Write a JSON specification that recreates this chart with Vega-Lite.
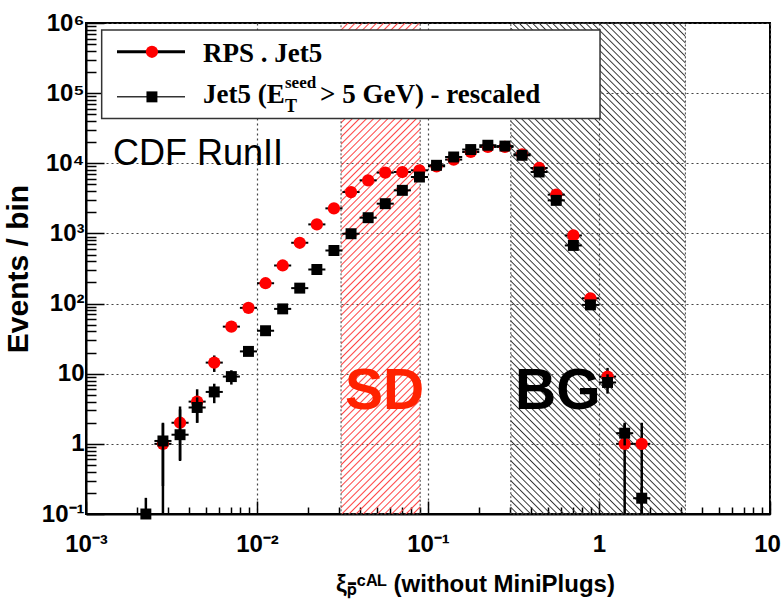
{
"$schema":"https://vega.github.io/schema/vega-lite/v6.json",
"width":684,"height":491,
"autosize":{"type":"none"},
"padding":{"left":86,"top":23,"right":12,"bottom":90},
"background":"#ffffff",
"config":{
"view":{"stroke":"#000","strokeWidth":2},
"mark":{"invalid":null},
"axis":{"domainColor":"#000","domainWidth":2,"tickColor":"#000","tickWidth":1.5,"grid":true,"gridColor":"#444","gridDash":[2,3],"gridWidth":1.2,"labelFont":"Liberation Sans","labelFontWeight":"bold","labelFontSize":24,"labelColor":"#000","titleFont":"Liberation Sans","titleFontWeight":"bold","titleColor":"#000"},
"axisX":{"titleFontSize":24,"labelPadding":31,"titlePadding":10,"titleX":389},
"axisY":{"titleFontSize":30,"labelPadding":20,"titlePadding":8}
},
"data":{"values":[
{"s":"RPS","x":0.001122,"xlo":0.001,"xhi":0.001259,"y":0},
{"s":"RPS","x":0.001413,"xlo":0.001259,"xhi":0.001585,"y":0},
{"s":"RPS","x":0.001778,"xlo":0.001585,"xhi":0.001995,"y":0},
{"s":"RPS","x":0.002239,"xlo":0.001995,"xhi":0.002512,"y":0},
{"s":"RPS","x":0.002818,"xlo":0.002512,"xhi":0.003162,"y":1,"ylo":0,"yhi":2},
{"s":"RPS","x":0.003548,"xlo":0.003162,"xhi":0.003981,"y":2,"ylo":0.59,"yhi":3.41},
{"s":"RPS","x":0.004467,"xlo":0.003981,"xhi":0.005012,"y":4,"ylo":2,"yhi":6},
{"s":"RPS","x":0.005623,"xlo":0.005012,"xhi":0.00631,"y":14.4,"ylo":10.6,"yhi":18.2},
{"s":"RPS","x":0.00708,"xlo":0.00631,"xhi":0.007943,"y":46.9},
{"s":"RPS","x":0.008913,"xlo":0.007943,"xhi":0.01,"y":86.9},
{"s":"RPS","x":0.01122,"xlo":0.01,"xhi":0.01259,"y":195},
{"s":"RPS","x":0.01413,"xlo":0.01259,"xhi":0.01585,"y":349},
{"s":"RPS","x":0.01778,"xlo":0.01585,"xhi":0.01995,"y":736},
{"s":"RPS","x":0.02239,"xlo":0.01995,"xhi":0.02512,"y":1345},
{"s":"RPS","x":0.02818,"xlo":0.02512,"xhi":0.03162,"y":2276},
{"s":"RPS","x":0.03548,"xlo":0.03162,"xhi":0.03981,"y":3890},
{"s":"RPS","x":0.04467,"xlo":0.03981,"xhi":0.05012,"y":5717},
{"s":"RPS","x":0.05623,"xlo":0.05012,"xhi":0.0631,"y":7366},
{"s":"RPS","x":0.0708,"xlo":0.0631,"xhi":0.07943,"y":7510},
{"s":"RPS","x":0.08913,"xlo":0.07943,"xhi":0.1,"y":7943},
{"s":"RPS","x":0.1122,"xlo":0.1,"xhi":0.1259,"y":9057},
{"s":"RPS","x":0.1413,"xlo":0.1259,"xhi":0.1585,"y":11290},
{"s":"RPS","x":0.1778,"xlo":0.1585,"xhi":0.1995,"y":14500},
{"s":"RPS","x":0.2239,"xlo":0.1995,"xhi":0.2512,"y":17100},
{"s":"RPS","x":0.2818,"xlo":0.2512,"xhi":0.3162,"y":17100},
{"s":"RPS","x":0.3548,"xlo":0.3162,"xhi":0.3981,"y":13450},
{"s":"RPS","x":0.4467,"xlo":0.3981,"xhi":0.5012,"y":8570},
{"s":"RPS","x":0.5623,"xlo":0.5012,"xhi":0.631,"y":3570},
{"s":"RPS","x":0.708,"xlo":0.631,"xhi":0.7943,"y":936},
{"s":"RPS","x":0.8913,"xlo":0.7943,"xhi":1,"y":119},
{"s":"RPS","x":1.122,"xlo":1,"xhi":1.259,"y":9.1,"ylo":6.1,"yhi":12.1},
{"s":"RPS","x":1.413,"xlo":1.259,"xhi":1.585,"y":1,"ylo":0,"yhi":2},
{"s":"RPS","x":1.778,"xlo":1.585,"xhi":1.995,"y":1,"ylo":0,"yhi":2},
{"s":"RPS","x":2.239,"xlo":1.995,"xhi":2.512,"y":0},
{"s":"RPS","x":2.818,"xlo":2.512,"xhi":3.162,"y":0},
{"s":"RPS","x":3.548,"xlo":3.162,"xhi":3.981,"y":0},
{"s":"RPS","x":4.467,"xlo":3.981,"xhi":5.012,"y":0},
{"s":"RPS","x":5.623,"xlo":5.012,"xhi":6.31,"y":0},
{"s":"RPS","x":7.08,"xlo":6.31,"xhi":7.943,"y":0},
{"s":"RPS","x":8.913,"xlo":7.943,"xhi":10,"y":0},
{"s":"Jet5","x":0.001122,"xlo":0.001,"xhi":0.001259,"y":0},
{"s":"Jet5","x":0.001413,"xlo":0.001259,"xhi":0.001585,"y":0},
{"s":"Jet5","x":0.001778,"xlo":0.001585,"xhi":0.001995,"y":0},
{"s":"Jet5","x":0.002239,"xlo":0.001995,"xhi":0.002512,"y":0.07,"ylo":0,"yhi":0.17},
{"s":"Jet5","x":0.002818,"xlo":0.002512,"xhi":0.003162,"y":1.1,"ylo":0.25,"yhi":1.95},
{"s":"Jet5","x":0.003548,"xlo":0.003162,"xhi":0.003981,"y":1.35,"ylo":0.57,"yhi":3.1},
{"s":"Jet5","x":0.004467,"xlo":0.003981,"xhi":0.005012,"y":3.3,"ylo":2,"yhi":4.6},
{"s":"Jet5","x":0.005623,"xlo":0.005012,"xhi":0.00631,"y":5.5,"ylo":3.8,"yhi":7.2},
{"s":"Jet5","x":0.00708,"xlo":0.00631,"xhi":0.007943,"y":9.1,"ylo":7,"yhi":11.2},
{"s":"Jet5","x":0.008913,"xlo":0.007943,"xhi":0.01,"y":20.8},
{"s":"Jet5","x":0.01122,"xlo":0.01,"xhi":0.01259,"y":41},
{"s":"Jet5","x":0.01413,"xlo":0.01259,"xhi":0.01585,"y":84},
{"s":"Jet5","x":0.01778,"xlo":0.01585,"xhi":0.01995,"y":166},
{"s":"Jet5","x":0.02239,"xlo":0.01995,"xhi":0.02512,"y":306},
{"s":"Jet5","x":0.02818,"xlo":0.02512,"xhi":0.03162,"y":571},
{"s":"Jet5","x":0.03548,"xlo":0.03162,"xhi":0.03981,"y":990},
{"s":"Jet5","x":0.04467,"xlo":0.03981,"xhi":0.05012,"y":1676},
{"s":"Jet5","x":0.05623,"xlo":0.05012,"xhi":0.0631,"y":2656},
{"s":"Jet5","x":0.0708,"xlo":0.0631,"xhi":0.07943,"y":4114},
{"s":"Jet5","x":0.08913,"xlo":0.07943,"xhi":0.1,"y":6370},
{"s":"Jet5","x":0.1122,"xlo":0.1,"xhi":0.1259,"y":9360},
{"s":"Jet5","x":0.1413,"xlo":0.1259,"xhi":0.1585,"y":12300},
{"s":"Jet5","x":0.1778,"xlo":0.1585,"xhi":0.1995,"y":15700},
{"s":"Jet5","x":0.2239,"xlo":0.1995,"xhi":0.2512,"y":18080},
{"s":"Jet5","x":0.2818,"xlo":0.2512,"xhi":0.3162,"y":17600},
{"s":"Jet5","x":0.3548,"xlo":0.3162,"xhi":0.3981,"y":13000},
{"s":"Jet5","x":0.4467,"xlo":0.3981,"xhi":0.5012,"y":7510},
{"s":"Jet5","x":0.5623,"xlo":0.5012,"xhi":0.631,"y":2960},
{"s":"Jet5","x":0.708,"xlo":0.631,"xhi":0.7943,"y":674},
{"s":"Jet5","x":0.8913,"xlo":0.7943,"xhi":1,"y":95.8},
{"s":"Jet5","x":1.122,"xlo":1,"xhi":1.259,"y":7.5,"ylo":5.2,"yhi":9.8},
{"s":"Jet5","x":1.413,"xlo":1.259,"xhi":1.585,"y":1.42,"ylo":0.95,"yhi":1.9},
{"s":"Jet5","x":1.778,"xlo":1.585,"xhi":1.995,"y":0.168,"ylo":0.06,"yhi":0.24},
{"s":"Jet5","x":2.239,"xlo":1.995,"xhi":2.512,"y":0},
{"s":"Jet5","x":2.818,"xlo":2.512,"xhi":3.162,"y":0},
{"s":"Jet5","x":3.548,"xlo":3.162,"xhi":3.981,"y":0},
{"s":"Jet5","x":4.467,"xlo":3.981,"xhi":5.012,"y":0},
{"s":"Jet5","x":5.623,"xlo":5.012,"xhi":6.31,"y":0},
{"s":"Jet5","x":7.08,"xlo":6.31,"xhi":7.943,"y":0},
{"s":"Jet5","x":8.913,"xlo":7.943,"xhi":10,"y":0}
]},
"layer":[
{"data":{"values":[{}]},
"mark":{"type":"rect","stroke":"#444","strokeDash":[2,2],"strokeWidth":1,
"fill":{"gradient":"linear","x1":0,"y1":0,"x2":0.1826,"y2":1.1319,"stops":[
{"offset":0,"color":"#f44"},{"offset":0.0025,"color":"#f440"},
{"offset":0.01,"color":"#f440"},{"offset":0.0125,"color":"#f44"},{"offset":0.015,"color":"#f440"},{"offset":0.0225,"color":"#f440"},{"offset":0.025,"color":"#f44"},{"offset":0.0275,"color":"#f440"},{"offset":0.035,"color":"#f440"},{"offset":0.0375,"color":"#f44"},{"offset":0.04,"color":"#f440"},{"offset":0.0475,"color":"#f440"},{"offset":0.05,"color":"#f44"},{"offset":0.0525,"color":"#f440"},{"offset":0.06,"color":"#f440"},{"offset":0.0625,"color":"#f44"},{"offset":0.065,"color":"#f440"},{"offset":0.0725,"color":"#f440"},{"offset":0.075,"color":"#f44"},{"offset":0.0775,"color":"#f440"},{"offset":0.085,"color":"#f440"},{"offset":0.0875,"color":"#f44"},{"offset":0.09,"color":"#f440"},{"offset":0.0975,"color":"#f440"},{"offset":0.1,"color":"#f44"},{"offset":0.1025,"color":"#f440"},
{"offset":0.11,"color":"#f440"},{"offset":0.1125,"color":"#f44"},{"offset":0.115,"color":"#f440"},{"offset":0.1225,"color":"#f440"},{"offset":0.125,"color":"#f44"},{"offset":0.1275,"color":"#f440"},{"offset":0.135,"color":"#f440"},{"offset":0.1375,"color":"#f44"},{"offset":0.14,"color":"#f440"},{"offset":0.1475,"color":"#f440"},{"offset":0.15,"color":"#f44"},{"offset":0.1525,"color":"#f440"},{"offset":0.16,"color":"#f440"},{"offset":0.1625,"color":"#f44"},{"offset":0.165,"color":"#f440"},{"offset":0.1725,"color":"#f440"},{"offset":0.175,"color":"#f44"},{"offset":0.1775,"color":"#f440"},{"offset":0.185,"color":"#f440"},{"offset":0.1875,"color":"#f44"},{"offset":0.19,"color":"#f440"},{"offset":0.1975,"color":"#f440"},{"offset":0.2,"color":"#f44"},{"offset":0.2025,"color":"#f440"},
{"offset":0.21,"color":"#f440"},{"offset":0.2125,"color":"#f44"},{"offset":0.215,"color":"#f440"},{"offset":0.2225,"color":"#f440"},{"offset":0.225,"color":"#f44"},{"offset":0.2275,"color":"#f440"},{"offset":0.235,"color":"#f440"},{"offset":0.2375,"color":"#f44"},{"offset":0.24,"color":"#f440"},{"offset":0.2475,"color":"#f440"},{"offset":0.25,"color":"#f44"},{"offset":0.2525,"color":"#f440"},{"offset":0.26,"color":"#f440"},{"offset":0.2625,"color":"#f44"},{"offset":0.265,"color":"#f440"},{"offset":0.2725,"color":"#f440"},{"offset":0.275,"color":"#f44"},{"offset":0.2775,"color":"#f440"},{"offset":0.285,"color":"#f440"},{"offset":0.2875,"color":"#f44"},{"offset":0.29,"color":"#f440"},{"offset":0.2975,"color":"#f440"},{"offset":0.3,"color":"#f44"},{"offset":0.3025,"color":"#f440"},
{"offset":0.31,"color":"#f440"},{"offset":0.3125,"color":"#f44"},{"offset":0.315,"color":"#f440"},{"offset":0.3225,"color":"#f440"},{"offset":0.325,"color":"#f44"},{"offset":0.3275,"color":"#f440"},{"offset":0.335,"color":"#f440"},{"offset":0.3375,"color":"#f44"},{"offset":0.34,"color":"#f440"},{"offset":0.3475,"color":"#f440"},{"offset":0.35,"color":"#f44"},{"offset":0.3525,"color":"#f440"},{"offset":0.36,"color":"#f440"},{"offset":0.3625,"color":"#f44"},{"offset":0.365,"color":"#f440"},{"offset":0.3725,"color":"#f440"},{"offset":0.375,"color":"#f44"},{"offset":0.3775,"color":"#f440"},{"offset":0.385,"color":"#f440"},{"offset":0.3875,"color":"#f44"},{"offset":0.39,"color":"#f440"},{"offset":0.3975,"color":"#f440"},{"offset":0.4,"color":"#f44"},{"offset":0.4025,"color":"#f440"},
{"offset":0.41,"color":"#f440"},{"offset":0.4125,"color":"#f44"},{"offset":0.415,"color":"#f440"},{"offset":0.4225,"color":"#f440"},{"offset":0.425,"color":"#f44"},{"offset":0.4275,"color":"#f440"},{"offset":0.435,"color":"#f440"},{"offset":0.4375,"color":"#f44"},{"offset":0.44,"color":"#f440"},{"offset":0.4475,"color":"#f440"},{"offset":0.45,"color":"#f44"},{"offset":0.4525,"color":"#f440"},{"offset":0.46,"color":"#f440"},{"offset":0.4625,"color":"#f44"},{"offset":0.465,"color":"#f440"},{"offset":0.4725,"color":"#f440"},{"offset":0.475,"color":"#f44"},{"offset":0.4775,"color":"#f440"},{"offset":0.485,"color":"#f440"},{"offset":0.4875,"color":"#f44"},{"offset":0.49,"color":"#f440"},{"offset":0.4975,"color":"#f440"},{"offset":0.5,"color":"#f44"},{"offset":0.5025,"color":"#f440"},
{"offset":0.51,"color":"#f440"},{"offset":0.5125,"color":"#f44"},{"offset":0.515,"color":"#f440"},{"offset":0.5225,"color":"#f440"},{"offset":0.525,"color":"#f44"},{"offset":0.5275,"color":"#f440"},{"offset":0.535,"color":"#f440"},{"offset":0.5375,"color":"#f44"},{"offset":0.54,"color":"#f440"},{"offset":0.5475,"color":"#f440"},{"offset":0.55,"color":"#f44"},{"offset":0.5525,"color":"#f440"},{"offset":0.56,"color":"#f440"},{"offset":0.5625,"color":"#f44"},{"offset":0.565,"color":"#f440"},{"offset":0.5725,"color":"#f440"},{"offset":0.575,"color":"#f44"},{"offset":0.5775,"color":"#f440"},{"offset":0.585,"color":"#f440"},{"offset":0.5875,"color":"#f44"},{"offset":0.59,"color":"#f440"},{"offset":0.5975,"color":"#f440"},{"offset":0.6,"color":"#f44"},{"offset":0.6025,"color":"#f440"},
{"offset":0.61,"color":"#f440"},{"offset":0.6125,"color":"#f44"},{"offset":0.615,"color":"#f440"},{"offset":0.6225,"color":"#f440"},{"offset":0.625,"color":"#f44"},{"offset":0.6275,"color":"#f440"},{"offset":0.635,"color":"#f440"},{"offset":0.6375,"color":"#f44"},{"offset":0.64,"color":"#f440"},{"offset":0.6475,"color":"#f440"},{"offset":0.65,"color":"#f44"},{"offset":0.6525,"color":"#f440"},{"offset":0.66,"color":"#f440"},{"offset":0.6625,"color":"#f44"},{"offset":0.665,"color":"#f440"},{"offset":0.6725,"color":"#f440"},{"offset":0.675,"color":"#f44"},{"offset":0.6775,"color":"#f440"},{"offset":0.685,"color":"#f440"},{"offset":0.6875,"color":"#f44"},{"offset":0.69,"color":"#f440"},{"offset":0.6975,"color":"#f440"},{"offset":0.7,"color":"#f44"},{"offset":0.7025,"color":"#f440"},
{"offset":0.71,"color":"#f440"},{"offset":0.7125,"color":"#f44"},{"offset":0.715,"color":"#f440"},{"offset":0.7225,"color":"#f440"},{"offset":0.725,"color":"#f44"},{"offset":0.7275,"color":"#f440"},{"offset":0.735,"color":"#f440"},{"offset":0.7375,"color":"#f44"},{"offset":0.74,"color":"#f440"},{"offset":0.7475,"color":"#f440"},{"offset":0.75,"color":"#f44"},{"offset":0.7525,"color":"#f440"},{"offset":0.76,"color":"#f440"},{"offset":0.7625,"color":"#f44"},{"offset":0.765,"color":"#f440"},{"offset":0.7725,"color":"#f440"},{"offset":0.775,"color":"#f44"},{"offset":0.7775,"color":"#f440"},{"offset":0.785,"color":"#f440"},{"offset":0.7875,"color":"#f44"},{"offset":0.79,"color":"#f440"},{"offset":0.7975,"color":"#f440"},{"offset":0.8,"color":"#f44"},{"offset":0.8025,"color":"#f440"},
{"offset":0.81,"color":"#f440"},{"offset":0.8125,"color":"#f44"},{"offset":0.815,"color":"#f440"},{"offset":0.8225,"color":"#f440"},{"offset":0.825,"color":"#f44"},{"offset":0.8275,"color":"#f440"},{"offset":0.835,"color":"#f440"},{"offset":0.8375,"color":"#f44"},{"offset":0.84,"color":"#f440"},{"offset":0.8475,"color":"#f440"},{"offset":0.85,"color":"#f44"},{"offset":0.8525,"color":"#f440"},{"offset":0.86,"color":"#f440"},{"offset":0.8625,"color":"#f44"},{"offset":0.865,"color":"#f440"},{"offset":0.8725,"color":"#f440"},{"offset":0.875,"color":"#f44"},{"offset":0.8775,"color":"#f440"},{"offset":0.885,"color":"#f440"},{"offset":0.8875,"color":"#f44"},{"offset":0.89,"color":"#f440"},{"offset":0.8975,"color":"#f440"},{"offset":0.9,"color":"#f44"},{"offset":0.9025,"color":"#f440"},
{"offset":0.91,"color":"#f440"},{"offset":0.9125,"color":"#f44"},{"offset":0.915,"color":"#f440"},{"offset":0.9225,"color":"#f440"},{"offset":0.925,"color":"#f44"},{"offset":0.9275,"color":"#f440"},{"offset":0.935,"color":"#f440"},{"offset":0.9375,"color":"#f44"},{"offset":0.94,"color":"#f440"},{"offset":0.9475,"color":"#f440"},{"offset":0.95,"color":"#f44"},{"offset":0.9525,"color":"#f440"},{"offset":0.96,"color":"#f440"},{"offset":0.9625,"color":"#f44"},{"offset":0.965,"color":"#f440"},{"offset":0.9725,"color":"#f440"},{"offset":0.975,"color":"#f44"},{"offset":0.9775,"color":"#f440"},{"offset":0.985,"color":"#f440"},{"offset":0.9875,"color":"#f44"},{"offset":0.99,"color":"#f440"},{"offset":0.9975,"color":"#f440"},{"offset":1,"color":"#f44"}
]}},
"encoding":{
"x":{"datum":0.031,"type":"quantitative","scale":{"type":"log","domain":[0.001,10],"nice":false},
"axis":{"title":"ξₚ̄ᶜᴬᴸ (without MiniPlugs)","values":[0.001,0.002,0.003,0.004,0.005,0.006,0.007,0.008,0.009,0.01,0.02,0.03,0.04,0.05,0.06,0.07,0.08,0.09,0.1,0.2,0.3,0.4,0.5,0.6,0.7,0.8,0.9,1,2,3,4,5,6,7,8,9,10],
"labelExpr":"datum.value == 0.001 ? '10⁻³' : datum.value == 0.01 ? '10⁻²' : datum.value == 0.1 ? '10⁻¹' : datum.value == 1 ? '1' : datum.value == 10 ? '10' : ''",
"labelFlush":false,"labelOverlap":false,
"labelOffset":{"condition":{"test":"datum.value == 10","value":-3},"value":0},
"tickSize":{"condition":{"test":"abs(log(datum.value)/LN10 - round(log(datum.value)/LN10)) < 0.001","value":-13},"value":-7},
"gridOpacity":{"condition":{"test":"abs(log(datum.value)/LN10 - round(log(datum.value)/LN10)) < 0.001","value":1},"value":0}}},
"x2":{"datum":0.09}}},
{"data":{"values":[{}]},
"mark":{"type":"rect","stroke":"#444","strokeDash":[2,2],"strokeWidth":1,
"fill":{"gradient":"linear","x1":0,"y1":1,"x2":0.4279,"y2":-0.2034,"stops":[
{"offset":0,"color":"#333"},{"offset":0.002,"color":"#3330"},
{"offset":0.008,"color":"#3330"},{"offset":0.01,"color":"#333"},{"offset":0.012,"color":"#3330"},{"offset":0.018,"color":"#3330"},{"offset":0.02,"color":"#333"},{"offset":0.022,"color":"#3330"},{"offset":0.028,"color":"#3330"},{"offset":0.03,"color":"#333"},{"offset":0.032,"color":"#3330"},{"offset":0.038,"color":"#3330"},{"offset":0.04,"color":"#333"},{"offset":0.042,"color":"#3330"},{"offset":0.048,"color":"#3330"},{"offset":0.05,"color":"#333"},{"offset":0.052,"color":"#3330"},{"offset":0.058,"color":"#3330"},{"offset":0.06,"color":"#333"},{"offset":0.062,"color":"#3330"},{"offset":0.068,"color":"#3330"},{"offset":0.07,"color":"#333"},{"offset":0.072,"color":"#3330"},{"offset":0.078,"color":"#3330"},{"offset":0.08,"color":"#333"},{"offset":0.082,"color":"#3330"},{"offset":0.088,"color":"#3330"},{"offset":0.09,"color":"#333"},{"offset":0.092,"color":"#3330"},{"offset":0.098,"color":"#3330"},{"offset":0.1,"color":"#333"},{"offset":0.102,"color":"#3330"},
{"offset":0.108,"color":"#3330"},{"offset":0.11,"color":"#333"},{"offset":0.112,"color":"#3330"},{"offset":0.118,"color":"#3330"},{"offset":0.12,"color":"#333"},{"offset":0.122,"color":"#3330"},{"offset":0.128,"color":"#3330"},{"offset":0.13,"color":"#333"},{"offset":0.132,"color":"#3330"},{"offset":0.138,"color":"#3330"},{"offset":0.14,"color":"#333"},{"offset":0.142,"color":"#3330"},{"offset":0.148,"color":"#3330"},{"offset":0.15,"color":"#333"},{"offset":0.152,"color":"#3330"},{"offset":0.158,"color":"#3330"},{"offset":0.16,"color":"#333"},{"offset":0.162,"color":"#3330"},{"offset":0.168,"color":"#3330"},{"offset":0.17,"color":"#333"},{"offset":0.172,"color":"#3330"},{"offset":0.178,"color":"#3330"},{"offset":0.18,"color":"#333"},{"offset":0.182,"color":"#3330"},{"offset":0.188,"color":"#3330"},{"offset":0.19,"color":"#333"},{"offset":0.192,"color":"#3330"},{"offset":0.198,"color":"#3330"},{"offset":0.2,"color":"#333"},{"offset":0.202,"color":"#3330"},
{"offset":0.208,"color":"#3330"},{"offset":0.21,"color":"#333"},{"offset":0.212,"color":"#3330"},{"offset":0.218,"color":"#3330"},{"offset":0.22,"color":"#333"},{"offset":0.222,"color":"#3330"},{"offset":0.228,"color":"#3330"},{"offset":0.23,"color":"#333"},{"offset":0.232,"color":"#3330"},{"offset":0.238,"color":"#3330"},{"offset":0.24,"color":"#333"},{"offset":0.242,"color":"#3330"},{"offset":0.248,"color":"#3330"},{"offset":0.25,"color":"#333"},{"offset":0.252,"color":"#3330"},{"offset":0.258,"color":"#3330"},{"offset":0.26,"color":"#333"},{"offset":0.262,"color":"#3330"},{"offset":0.268,"color":"#3330"},{"offset":0.27,"color":"#333"},{"offset":0.272,"color":"#3330"},{"offset":0.278,"color":"#3330"},{"offset":0.28,"color":"#333"},{"offset":0.282,"color":"#3330"},{"offset":0.288,"color":"#3330"},{"offset":0.29,"color":"#333"},{"offset":0.292,"color":"#3330"},{"offset":0.298,"color":"#3330"},{"offset":0.3,"color":"#333"},{"offset":0.302,"color":"#3330"},
{"offset":0.308,"color":"#3330"},{"offset":0.31,"color":"#333"},{"offset":0.312,"color":"#3330"},{"offset":0.318,"color":"#3330"},{"offset":0.32,"color":"#333"},{"offset":0.322,"color":"#3330"},{"offset":0.328,"color":"#3330"},{"offset":0.33,"color":"#333"},{"offset":0.332,"color":"#3330"},{"offset":0.338,"color":"#3330"},{"offset":0.34,"color":"#333"},{"offset":0.342,"color":"#3330"},{"offset":0.348,"color":"#3330"},{"offset":0.35,"color":"#333"},{"offset":0.352,"color":"#3330"},{"offset":0.358,"color":"#3330"},{"offset":0.36,"color":"#333"},{"offset":0.362,"color":"#3330"},{"offset":0.368,"color":"#3330"},{"offset":0.37,"color":"#333"},{"offset":0.372,"color":"#3330"},{"offset":0.378,"color":"#3330"},{"offset":0.38,"color":"#333"},{"offset":0.382,"color":"#3330"},{"offset":0.388,"color":"#3330"},{"offset":0.39,"color":"#333"},{"offset":0.392,"color":"#3330"},{"offset":0.398,"color":"#3330"},{"offset":0.4,"color":"#333"},{"offset":0.402,"color":"#3330"},
{"offset":0.408,"color":"#3330"},{"offset":0.41,"color":"#333"},{"offset":0.412,"color":"#3330"},{"offset":0.418,"color":"#3330"},{"offset":0.42,"color":"#333"},{"offset":0.422,"color":"#3330"},{"offset":0.428,"color":"#3330"},{"offset":0.43,"color":"#333"},{"offset":0.432,"color":"#3330"},{"offset":0.438,"color":"#3330"},{"offset":0.44,"color":"#333"},{"offset":0.442,"color":"#3330"},{"offset":0.448,"color":"#3330"},{"offset":0.45,"color":"#333"},{"offset":0.452,"color":"#3330"},{"offset":0.458,"color":"#3330"},{"offset":0.46,"color":"#333"},{"offset":0.462,"color":"#3330"},{"offset":0.468,"color":"#3330"},{"offset":0.47,"color":"#333"},{"offset":0.472,"color":"#3330"},{"offset":0.478,"color":"#3330"},{"offset":0.48,"color":"#333"},{"offset":0.482,"color":"#3330"},{"offset":0.488,"color":"#3330"},{"offset":0.49,"color":"#333"},{"offset":0.492,"color":"#3330"},{"offset":0.498,"color":"#3330"},{"offset":0.5,"color":"#333"},{"offset":0.502,"color":"#3330"},
{"offset":0.508,"color":"#3330"},{"offset":0.51,"color":"#333"},{"offset":0.512,"color":"#3330"},{"offset":0.518,"color":"#3330"},{"offset":0.52,"color":"#333"},{"offset":0.522,"color":"#3330"},{"offset":0.528,"color":"#3330"},{"offset":0.53,"color":"#333"},{"offset":0.532,"color":"#3330"},{"offset":0.538,"color":"#3330"},{"offset":0.54,"color":"#333"},{"offset":0.542,"color":"#3330"},{"offset":0.548,"color":"#3330"},{"offset":0.55,"color":"#333"},{"offset":0.552,"color":"#3330"},{"offset":0.558,"color":"#3330"},{"offset":0.56,"color":"#333"},{"offset":0.562,"color":"#3330"},{"offset":0.568,"color":"#3330"},{"offset":0.57,"color":"#333"},{"offset":0.572,"color":"#3330"},{"offset":0.578,"color":"#3330"},{"offset":0.58,"color":"#333"},{"offset":0.582,"color":"#3330"},{"offset":0.588,"color":"#3330"},{"offset":0.59,"color":"#333"},{"offset":0.592,"color":"#3330"},{"offset":0.598,"color":"#3330"},{"offset":0.6,"color":"#333"},{"offset":0.602,"color":"#3330"},
{"offset":0.608,"color":"#3330"},{"offset":0.61,"color":"#333"},{"offset":0.612,"color":"#3330"},{"offset":0.618,"color":"#3330"},{"offset":0.62,"color":"#333"},{"offset":0.622,"color":"#3330"},{"offset":0.628,"color":"#3330"},{"offset":0.63,"color":"#333"},{"offset":0.632,"color":"#3330"},{"offset":0.638,"color":"#3330"},{"offset":0.64,"color":"#333"},{"offset":0.642,"color":"#3330"},{"offset":0.648,"color":"#3330"},{"offset":0.65,"color":"#333"},{"offset":0.652,"color":"#3330"},{"offset":0.658,"color":"#3330"},{"offset":0.66,"color":"#333"},{"offset":0.662,"color":"#3330"},{"offset":0.668,"color":"#3330"},{"offset":0.67,"color":"#333"},{"offset":0.672,"color":"#3330"},{"offset":0.678,"color":"#3330"},{"offset":0.68,"color":"#333"},{"offset":0.682,"color":"#3330"},{"offset":0.688,"color":"#3330"},{"offset":0.69,"color":"#333"},{"offset":0.692,"color":"#3330"},{"offset":0.698,"color":"#3330"},{"offset":0.7,"color":"#333"},{"offset":0.702,"color":"#3330"},
{"offset":0.708,"color":"#3330"},{"offset":0.71,"color":"#333"},{"offset":0.712,"color":"#3330"},{"offset":0.718,"color":"#3330"},{"offset":0.72,"color":"#333"},{"offset":0.722,"color":"#3330"},{"offset":0.728,"color":"#3330"},{"offset":0.73,"color":"#333"},{"offset":0.732,"color":"#3330"},{"offset":0.738,"color":"#3330"},{"offset":0.74,"color":"#333"},{"offset":0.742,"color":"#3330"},{"offset":0.748,"color":"#3330"},{"offset":0.75,"color":"#333"},{"offset":0.752,"color":"#3330"},{"offset":0.758,"color":"#3330"},{"offset":0.76,"color":"#333"},{"offset":0.762,"color":"#3330"},{"offset":0.768,"color":"#3330"},{"offset":0.77,"color":"#333"},{"offset":0.772,"color":"#3330"},{"offset":0.778,"color":"#3330"},{"offset":0.78,"color":"#333"},{"offset":0.782,"color":"#3330"},{"offset":0.788,"color":"#3330"},{"offset":0.79,"color":"#333"},{"offset":0.792,"color":"#3330"},{"offset":0.798,"color":"#3330"},{"offset":0.8,"color":"#333"},{"offset":0.802,"color":"#3330"},
{"offset":0.808,"color":"#3330"},{"offset":0.81,"color":"#333"},{"offset":0.812,"color":"#3330"},{"offset":0.818,"color":"#3330"},{"offset":0.82,"color":"#333"},{"offset":0.822,"color":"#3330"},{"offset":0.828,"color":"#3330"},{"offset":0.83,"color":"#333"},{"offset":0.832,"color":"#3330"},{"offset":0.838,"color":"#3330"},{"offset":0.84,"color":"#333"},{"offset":0.842,"color":"#3330"},{"offset":0.848,"color":"#3330"},{"offset":0.85,"color":"#333"},{"offset":0.852,"color":"#3330"},{"offset":0.858,"color":"#3330"},{"offset":0.86,"color":"#333"},{"offset":0.862,"color":"#3330"},{"offset":0.868,"color":"#3330"},{"offset":0.87,"color":"#333"},{"offset":0.872,"color":"#3330"},{"offset":0.878,"color":"#3330"},{"offset":0.88,"color":"#333"},{"offset":0.882,"color":"#3330"},{"offset":0.888,"color":"#3330"},{"offset":0.89,"color":"#333"},{"offset":0.892,"color":"#3330"},{"offset":0.898,"color":"#3330"},{"offset":0.9,"color":"#333"},{"offset":0.902,"color":"#3330"},
{"offset":0.908,"color":"#3330"},{"offset":0.91,"color":"#333"},{"offset":0.912,"color":"#3330"},{"offset":0.918,"color":"#3330"},{"offset":0.92,"color":"#333"},{"offset":0.922,"color":"#3330"},{"offset":0.928,"color":"#3330"},{"offset":0.93,"color":"#333"},{"offset":0.932,"color":"#3330"},{"offset":0.938,"color":"#3330"},{"offset":0.94,"color":"#333"},{"offset":0.942,"color":"#3330"},{"offset":0.948,"color":"#3330"},{"offset":0.95,"color":"#333"},{"offset":0.952,"color":"#3330"},{"offset":0.958,"color":"#3330"},{"offset":0.96,"color":"#333"},{"offset":0.962,"color":"#3330"},{"offset":0.968,"color":"#3330"},{"offset":0.97,"color":"#333"},{"offset":0.972,"color":"#3330"},{"offset":0.978,"color":"#3330"},{"offset":0.98,"color":"#333"},{"offset":0.982,"color":"#3330"},{"offset":0.988,"color":"#3330"},{"offset":0.99,"color":"#333"},{"offset":0.992,"color":"#3330"},{"offset":0.998,"color":"#3330"},{"offset":1,"color":"#333"}
]}},
"encoding":{"x":{"datum":0.305,"type":"quantitative"},"x2":{"datum":3.2}}},
{"transform":[{"filter":"datum.s == 'RPS'"}],
"mark":{"type":"rule","color":"#000","strokeWidth":2},
"encoding":{"x":{"field":"xlo","type":"quantitative"},"x2":{"field":"xhi"},
"y":{"field":"y","type":"quantitative","scale":{"type":"log","domain":[0.1,1000000],"nice":false,"clamp":true},
"axis":{"title":"Events / bin","values":[0.1,0.2,0.3,0.4,0.5,0.6,0.7,0.8,0.9,1,2,3,4,5,6,7,8,9,10,20,30,40,50,60,70,80,90,100,200,300,400,500,600,700,800,900,1000,2000,3000,4000,5000,6000,7000,8000,9000,10000,20000,30000,40000,50000,60000,70000,80000,90000,100000,200000,300000,400000,500000,600000,700000,800000,900000,1000000],
"labelExpr":"datum.value == 0.1 ? '10⁻¹' : datum.value == 1 ? '1' : datum.value == 10 ? '10' : datum.value == 100 ? '10²' : datum.value == 1000 ? '10³' : datum.value == 10000 ? '10⁴' : datum.value == 100000 ? '10⁵' : datum.value == 1000000 ? '10⁶' : ''",
"labelOverlap":false,"labelFlush":false,
"tickSize":{"condition":{"test":"abs(log(datum.value)/LN10 - round(log(datum.value)/LN10)) < 0.001","value":-18},"value":-10},
"gridOpacity":{"condition":{"test":"abs(log(datum.value)/LN10 - round(log(datum.value)/LN10)) < 0.001","value":1},"value":0}}}}},
{"transform":[{"filter":"datum.s == 'RPS' && isValid(datum.ylo)"}],
"mark":{"type":"rule","color":"#000","strokeWidth":2.5},
"encoding":{"x":{"field":"x","type":"quantitative"},"y":{"field":"ylo","type":"quantitative"},"y2":{"field":"yhi"}}},
{"transform":[{"filter":"datum.s == 'RPS' && datum.y > 0"}],
"mark":{"type":"point","shape":"circle","filled":true,"size":150,"color":"#ff0000","opacity":1},
"encoding":{"x":{"field":"x","type":"quantitative"},"y":{"field":"y","type":"quantitative"}}},
{"transform":[{"filter":"datum.s == 'Jet5'"}],
"mark":{"type":"rule","color":"#000","strokeWidth":2},
"encoding":{"x":{"field":"xlo","type":"quantitative"},"x2":{"field":"xhi"},"y":{"field":"y","type":"quantitative"}}},
{"transform":[{"filter":"datum.s == 'Jet5' && isValid(datum.ylo)"}],
"mark":{"type":"rule","color":"#000","strokeWidth":2.5},
"encoding":{"x":{"field":"x","type":"quantitative"},"y":{"field":"ylo","type":"quantitative"},"y2":{"field":"yhi"}}},
{"transform":[{"filter":"datum.s == 'Jet5' && datum.y > 0"}],
"mark":{"type":"point","shape":"square","filled":true,"size":120,"color":"#000","opacity":1},
"encoding":{"x":{"field":"x","type":"quantitative"},"y":{"field":"y","type":"quantitative"}}},
{"data":{"values":[{}]},
"mark":{"type":"rect","fill":"#fff","stroke":"#333","strokeWidth":1.5},
"encoding":{"x":{"datum":0.001235,"type":"quantitative"},"x2":{"datum":1.014},"y":{"datum":794000,"type":"quantitative"},"y2":{"datum":43550}}},
{"data":{"values":[{}]},
"mark":{"type":"rule","color":"#000","strokeWidth":3},
"encoding":{"x":{"datum":0.001518,"type":"quantitative"},"x2":{"datum":0.003793},"y":{"datum":389000,"type":"quantitative"}}},
{"data":{"values":[{}]},
"mark":{"type":"rule","color":"#333","strokeWidth":1.5},
"encoding":{"x":{"datum":0.001518,"type":"quantitative"},"x2":{"datum":0.003793},"y":{"datum":88500,"type":"quantitative"}}},
{"data":{"values":[{}]},
"mark":{"type":"point","shape":"circle","filled":true,"size":150,"color":"#ff0000","opacity":1},
"encoding":{"x":{"datum":0.00243,"type":"quantitative"},"y":{"datum":389000,"type":"quantitative"}}},
{"data":{"values":[{}]},
"mark":{"type":"point","shape":"square","filled":true,"size":120,"color":"#000","opacity":1},
"encoding":{"x":{"datum":0.00243,"type":"quantitative"},"y":{"datum":88500,"type":"quantitative"}}},
{"data":{"values":[{}]},
"mark":{"type":"text","text":"RPS . Jet5","font":"Liberation Serif","fontWeight":"bold","fontSize":27,"align":"left","baseline":"alphabetic","color":"#000"},
"encoding":{"x":{"datum":0.004833,"type":"quantitative"},"y":{"datum":279800,"type":"quantitative"}}},
{"data":{"values":[{}]},
"mark":{"type":"text","text":"Jet5 (E","font":"Liberation Serif","fontWeight":"bold","fontSize":27,"align":"left","baseline":"alphabetic","color":"#000"},
"encoding":{"x":{"datum":0.004833,"type":"quantitative"},"y":{"datum":71290,"type":"quantitative"}}},
{"data":{"values":[{}]},
"mark":{"type":"text","text":"seed","font":"Liberation Serif","fontWeight":"bold","fontSize":17,"align":"left","baseline":"alphabetic","color":"#000"},
"encoding":{"x":{"datum":0.01458,"type":"quantitative"},"y":{"datum":117900,"type":"quantitative"}}},
{"data":{"values":[{}]},
"mark":{"type":"text","text":"T","font":"Liberation Serif","fontWeight":"bold","fontSize":18,"align":"left","baseline":"alphabetic","color":"#000"},
"encoding":{"x":{"datum":0.01458,"type":"quantitative"},"y":{"datum":54080,"type":"quantitative"}}},
{"data":{"values":[{}]},
"mark":{"type":"text","text":"> 5 GeV) - rescaled","font":"Liberation Serif","fontWeight":"bold","fontSize":27,"align":"left","baseline":"alphabetic","color":"#000"},
"encoding":{"x":{"datum":0.02336,"type":"quantitative"},"y":{"datum":71290,"type":"quantitative"}}},
{"data":{"values":[{}]},
"mark":{"type":"text","text":"CDF RunII","font":"Liberation Sans","fontSize":36,"align":"left","baseline":"alphabetic","color":"#000"},
"encoding":{"x":{"datum":0.00144,"type":"quantitative"},"y":{"datum":9360,"type":"quantitative"}}},
{"data":{"values":[{}]},
"mark":{"type":"text","text":"SD","font":"Liberation Sans","fontWeight":"bold","fontSize":57,"align":"left","baseline":"alphabetic","color":"#ff2200"},
"encoding":{"x":{"datum":0.0327,"type":"quantitative"},"y":{"datum":3.16,"type":"quantitative"}}},
{"data":{"values":[{}]},
"mark":{"type":"text","text":"BG","font":"Liberation Sans","fontWeight":"bold","fontSize":57,"align":"left","baseline":"alphabetic","color":"#000"},
"encoding":{"x":{"datum":0.323,"type":"quantitative"},"y":{"datum":3.16,"type":"quantitative"}}}
]
}
